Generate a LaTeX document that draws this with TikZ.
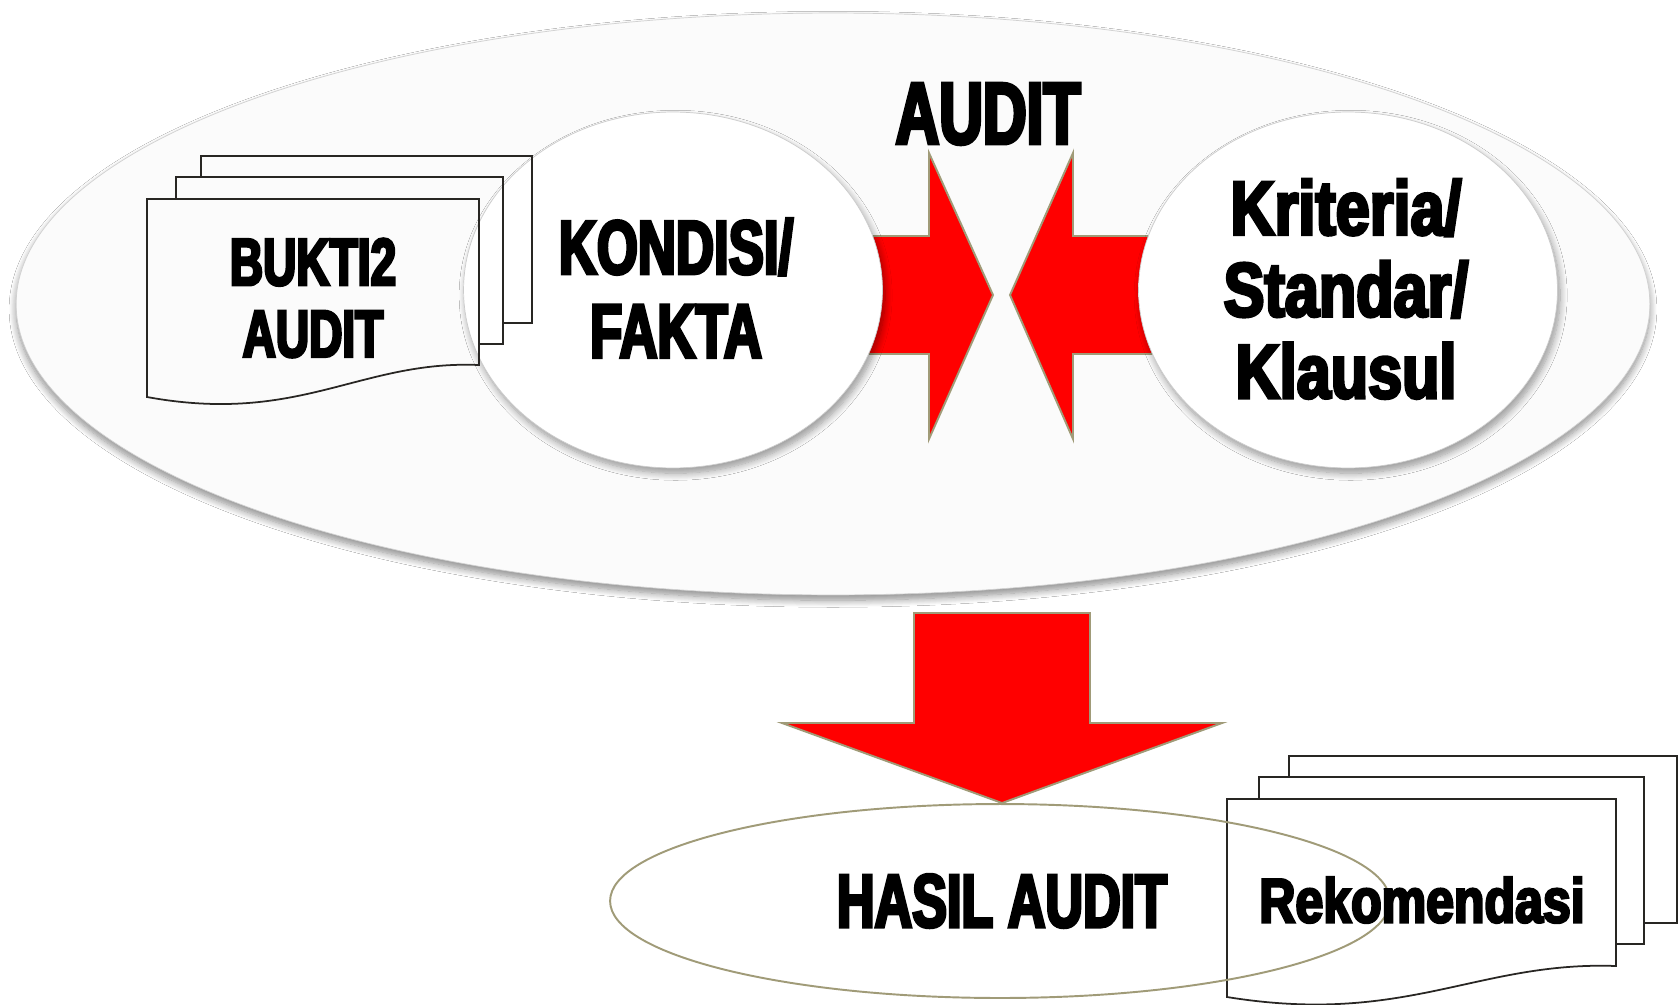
\documentclass[tikz,border=0pt]{standalone}
\usepackage{fontspec}
\usetikzlibrary{shapes.geometric,shadows.blur}

% Heavy condensed lettering
\newfontfamily\capsfont{Liberation Sans Bold}[FakeStretch=0.69,FakeBold=4]
\newfontfamily\mixfont{Liberation Sans Bold}[FakeStretch=0.80,FakeBold=4]

\definecolor{arrowred}{RGB}{255,0,0}
\definecolor{khaki}{RGB}{160,155,120}
\definecolor{plate}{RGB}{251,251,251}
\definecolor{ink}{RGB}{40,38,35}

\pgfdeclareradialshading{glossy}{\pgfpoint{0bp}{0bp}}{%
  color(0bp)=(white); color(36bp)=(white); color(46bp)=(black!5); color(50bp)=(black!14)}

\tikzset{
  zone/.style={ellipse, inner sep=0pt, outer sep=0pt, fill=plate,
    draw=black!18, line width=0.4pt,
    blur shadow={shadow xshift=0pt, shadow yshift=-3pt, shadow blur radius=4pt,
      shadow blur steps=10, shadow opacity=45}},
  bubble/.style={ellipse, inner sep=0pt, outer sep=0pt, shading=glossy,
    draw=black!20, line width=0.4pt,
    minimum width=8.38cm, minimum height=7.12cm,
    blur shadow={shadow xshift=1.5pt, shadow yshift=-3pt, shadow blur radius=4pt,
      shadow blur steps=10, shadow opacity=40}},
  outcome/.style={ellipse, inner sep=0pt, outer sep=0pt, draw=khaki, line width=1.1pt},
  blockarrow/.style={fill=arrowred, draw=khaki, line width=1.1pt, line join=miter},
  docline/.style={draw=ink, line width=1pt, line join=miter},
  lbl/.style={inner sep=0pt, outer sep=0pt, align=center, text=black},
}

\begin{document}
\begin{tikzpicture}[x=0.02cm, y=-0.02cm]
  \useasboundingbox (0,0) rectangle (1679,1004);
  \fill[white] (0,0) rectangle (1679,1004);

  % audit zone
  \node[zone, minimum width=32.68cm, minimum height=11.64cm] (zone) at (833,304) {};

  % arrows pointing at each other
  \draw[blockarrow] (840,236) -- (929,236) -- (929,153) -- (993,295)
        -- (929,439) -- (929,354) -- (840,354) -- cycle;
  \draw[blockarrow] (1180,236) -- (1073,236) -- (1073,153) -- (1010,295)
        -- (1073,439) -- (1073,354) -- (1180,354) -- cycle;

  % condition and criteria
  \node[bubble] (kondisi) at (673,290) {};
  \node[bubble] (kriteria) at (1348,290) {};

  % evidence documents
  \draw[docline] (147,199) -- (479,199) -- (479,365)
        .. controls (360,360) and (300,425) .. (147,397) -- cycle;
  \draw[docline] (176,199) -- (176,177) -- (503,177) -- (503,344) -- (479,344);
  \draw[docline] (201,177) -- (201,156) -- (532,156) -- (532,323) -- (503,323);

  % result arrow
  \draw[blockarrow] (914,613) -- (1090,613) -- (1090,723) -- (1222,723)
        -- (1002,803) -- (782,723) -- (914,723) -- cycle;

  % recommendation documents
  \draw[docline] (1227,799) -- (1616,799) -- (1616,966)
        .. controls (1477,961) and (1406,1026) .. (1227,997) -- cycle;
  \draw[docline] (1259,799) -- (1259,777) -- (1644,777) -- (1644,944) -- (1616,944);
  \draw[docline] (1289,777) -- (1289,756) -- (1677,756) -- (1677,923) -- (1644,923);

  % audit result
  \node[outcome, minimum width=15.6cm, minimum height=3.88cm] (hasil) at (1000,901) {};

  % labels
  \node[lbl, font=\capsfont\fontsize{38}{40.8}\selectfont] (bukti) at (313,298) {BUKTI2\\AUDIT};
  \node[lbl, font=\capsfont\fontsize{43.5}{47.6}\selectfont] (kondisiT) at (676,288) {KONDISI/\\FAKTA};
  \node[lbl, font=\capsfont\fontsize{49.9}{50}\selectfont] (auditT) at (988,114) {AUDIT};
  \node[lbl, font=\mixfont\fontsize{43.5}{46.5}\selectfont] (kriteriaT) at (1346,289) {Kriteria/\\Standar/\\Klausul};
  \node[lbl, font=\capsfont\fontsize{43}{45}\selectfont] (hasilT) at (1002,901) {HASIL AUDIT};
  \node[lbl, font=\mixfont\fontsize{35.6}{38}\selectfont] (rekomT) at (1422,900) {Rekomendasi};
\end{tikzpicture}
\end{document}
